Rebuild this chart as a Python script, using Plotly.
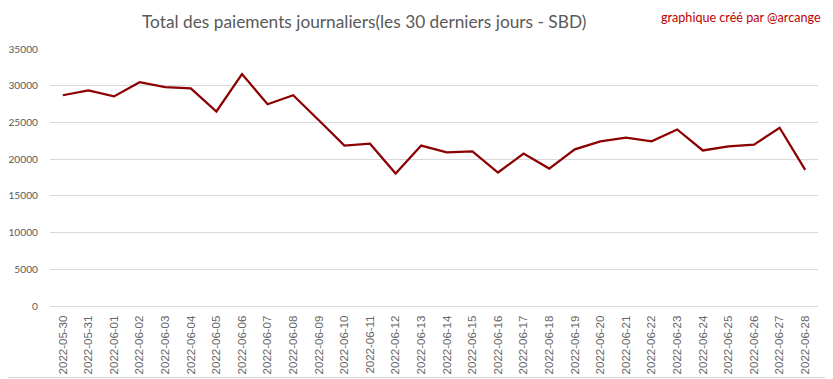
import plotly.graph_objects as go

dates = ["2022-05-30", "2022-05-31", "2022-06-01", "2022-06-02", "2022-06-03", "2022-06-04",
         "2022-06-05", "2022-06-06", "2022-06-07", "2022-06-08", "2022-06-09", "2022-06-10",
         "2022-06-11", "2022-06-12", "2022-06-13", "2022-06-14", "2022-06-15", "2022-06-16",
         "2022-06-17", "2022-06-18", "2022-06-19", "2022-06-20", "2022-06-21", "2022-06-22",
         "2022-06-23", "2022-06-24", "2022-06-25", "2022-06-26", "2022-06-27", "2022-06-28"]
payments = [28700, 29360, 28540, 30480, 29820, 29640,
            26490, 31580, 27480, 28700, 25300, 21850,
            22100, 18050, 21850, 20930, 21050, 18180,
            20750, 18720, 21330, 22420, 22930, 22430,
            24040, 21180, 21740, 21970, 24280, 18530]
y_ticks = [0, 5000, 10000, 15000, 20000, 25000, 30000, 35000]

title_text = "Total des paiements journaliers(les 30 derniers jours - SBD)"
credit_text = "graphique créé par @arcange"

# the page body has an 8px margin; compensate so the figure lands where the reference is
OFF = 8
W, H = 833 - OFF, 379 - OFF
L, T = 50 - OFF, 49 - OFF
pw, ph = 768, 257
R, B = W - L - pw, H - T - ph

fig = go.Figure()
fig.add_trace(go.Scatter(x=dates, y=payments, mode="lines",
                         line=dict(color="#8B0000", width=2.25), hoverinfo="x+y"))

fig.update_layout(
    width=W, height=H,
    margin=dict(l=L, r=R, t=T, b=B, autoexpand=False),
    paper_bgcolor="white", plot_bgcolor="white",
    showlegend=False,
    font=dict(family="Lato, sans-serif", color="#595959", size=11),
    xaxis=dict(type="category", range=[-0.5, len(dates) - 0.5], tickangle=-90,
               automargin=False, showgrid=False, showline=True,
               linecolor="#d9d9d9", linewidth=1, ticks="", ticklabelstandoff=4,
               tickfont=dict(size=11.5, color="#666666", family="Liberation Sans, Arial, sans-serif")),
    yaxis=dict(range=[0, 35000], tickvals=y_ticks, ticktext=[str(v) for v in y_ticks],
               automargin=False, showgrid=True, gridcolor="#d9d9d9", gridwidth=1, zeroline=False,
               showline=False, ticks="", ticklabelstandoff=11,
               tickfont=dict(size=10.2, color="#595959")),
    annotations=[
        dict(text=title_text, xref="paper", yref="paper",
             x=(364 - OFF - L) / pw, y=1 + (T - (22 - OFF)) / ph, xanchor="center", yanchor="middle",
             showarrow=False, font=dict(size=17.3, color="#595959", family="Lato, sans-serif")),
        dict(text=credit_text, xref="paper", yref="paper",
             x=(823 - OFF - L) / pw, y=1 + (T - (17 - OFF)) / ph, xanchor="right", yanchor="middle",
             showarrow=False, font=dict(size=12.6, color="#C00000", family="Lato, sans-serif")),
    ],
    shapes=[
        dict(type="line", xref="paper", yref="paper",
             x0=1 + (R - 1.5) / pw, x1=1 + (R - 1.5) / pw, y0=-(B - 1.5) / ph, y1=1 + T / ph,
             line=dict(color="#d9d9d9", width=1), layer="below"),
        dict(type="line", xref="paper", yref="paper",
             x0=-L / pw, x1=1 + (R - 1.5) / pw, y0=-(B - 1.5) / ph, y1=-(B - 1.5) / ph,
             line=dict(color="#d9d9d9", width=1), layer="below"),
    ],
)

fig.write_html("out.html")
